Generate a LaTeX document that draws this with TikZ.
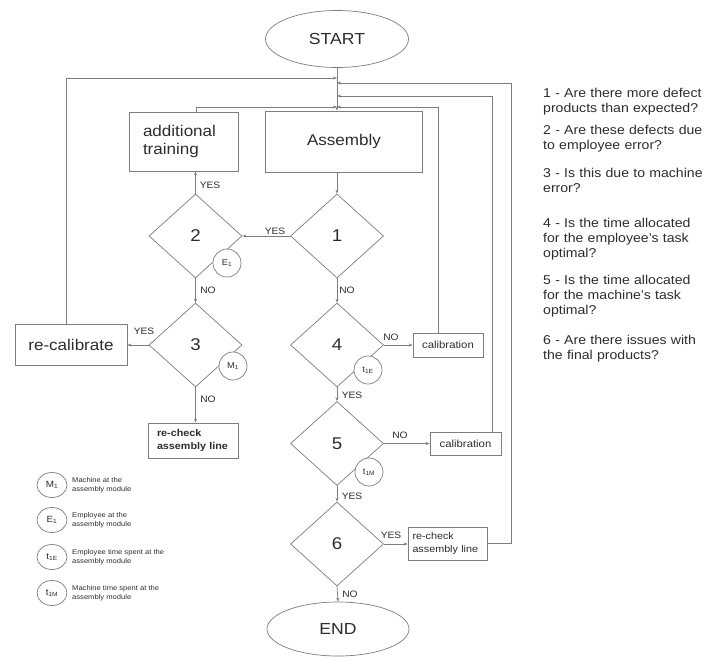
\documentclass[tikz,border=0pt]{standalone}
\usepackage{fontspec}
\setmainfont[FakeStretch=1.1]{Liberation Sans}
\usetikzlibrary{shapes.geometric,arrows.meta}
\definecolor{linec}{RGB}{125,125,125}
\definecolor{textc}{RGB}{45,45,45}
\begin{document}
\begin{tikzpicture}[x=1pt,y=-1pt,
  every node/.style={text=textc, font=\fontsize{10}{12}\selectfont},
  ln/.style={draw=linec, line width=0.7pt},
  arr/.style={ln, -{Stealth[length=4pt,width=3pt]}},
  dia/.style={shape=diamond, draw=linec, line width=0.7pt, minimum width=93pt, minimum height=84pt, inner sep=0pt, font=\fontsize{17}{20}\selectfont},
  term/.style={ellipse, draw=linec, line width=0.7pt, minimum width=143pt, minimum height=57pt, inner sep=0pt, font=\fontsize{16}{19}\selectfont},
  bigbox/.style={draw=linec, line width=0.7pt, inner sep=0pt, font=\fontsize{15.5}{18}\selectfont},
  smallbox/.style={draw=linec, line width=0.7pt, inner sep=0pt, font=\fontsize{10.3}{12.5}\selectfont},
  tag/.style={circle, draw=linec, line width=0.7pt, fill=white, minimum size=28pt, inner sep=0pt, font=\fontsize{8.5}{9}\selectfont},
  legtag/.style={ellipse, draw=linec, line width=0.7pt, minimum width=30pt, minimum height=25pt, inner sep=0pt, font=\fontsize{9}{10}\selectfont},
  lab/.style={font=\fontsize{9.3}{10}\selectfont, inner sep=0pt},
  leg/.style={font=\fontsize{6.9}{9.3}\selectfont, align=left, anchor=west, inner sep=0pt},
  qtext/.style={font=\fontsize{12.8}{15}\selectfont, align=left, anchor=base west, inner sep=0pt, text width=160pt}
]
\fill[white] (0,0) rectangle (704,657);
\useasboundingbox (0,0) rectangle (704,657);

% main column
\node[term] (start) at (337,39) {START};
\node[bigbox, minimum width=157pt, minimum height=61pt] (asm) at (344,141.5) {Assembly};
\node[bigbox, minimum width=109pt, minimum height=59pt, align=left, text width=81pt] (train) at (183.5,141.5) {additional\\training};
\node[dia] (d1) at (337,236) {1};
\node[dia] (d2) at (195.5,236) {2};
\node[dia] (d3) at (195.5,345) {3};
\node[dia] (d4) at (337,345) {4};
\node[dia] (d5) at (337,443.5) {5};
\node[dia] (d6) at (337,544) {6};
\node[term, minimum width=142pt, minimum height=54pt] (end) at (338,629) {END};

\node[bigbox, minimum width=112pt, minimum height=41pt] (recal) at (71,344.5) {re-calibrate};
\node[smallbox, minimum width=90pt, minimum height=35pt, align=left, text width=72pt, font=\bfseries\fontsize{9.8}{12.5}\selectfont] (rc1) at (193,440.5) {re-check\\assembly line};
\node[smallbox, minimum width=70pt, minimum height=24pt] (cal1) at (448,345) {calibration};
\node[smallbox, minimum width=71pt, minimum height=23pt] (cal2) at (465.5,443.5) {calibration};
\node[smallbox, minimum width=79pt, minimum height=33pt, align=left, text width=70pt, font=\fontsize{9.8}{12.5}\selectfont] (rc2) at (447.5,543.5) {re-check\\assembly line};

% connectors
\draw[arr] (start.south) -- (start.south |- asm.north);
\draw[arr] (asm.south -| d1.north) -- (d1.north);
\draw[arr] (d1.west) -- (d2.east);
\draw[arr] (d2.north) -- (d2.north |- train.south);
\draw[arr] (d2.south) -- (d3.north);
\draw[arr] (d3.west) -- (d3.west -| recal.east);
\draw[arr] (d3.south) -- (d3.south |- rc1.north);
\draw[arr] (d1.south) -- (d4.north);
\draw[arr] (d4.south) -- (d5.north);
\draw[arr] (d5.south) -- (d6.north);
\draw[arr] (d6.south) -- (end.north);
\draw[arr] (d4.east) -- (d4.east -| cal1.west);
\draw[arr] (d5.east) -- (d5.east -| cal2.west);
\draw[arr] (d6.east) -- (d6.east -| rc2.west);

% loops back to the main line
\coordinate (j1) at (337,78);
\coordinate (j2) at (337,83);
\coordinate (j3) at (337,96);
\coordinate (j4) at (337,107);
\coordinate (rl) at (66,78);
\coordinate (r2) at (511,83);
\coordinate (r3) at (492,96);
\coordinate (r4) at (438,107);
\coordinate (l4) at (196,107);
\draw[arr] (rl |- recal.north) -- (rl) -- (j1);
\draw[arr] (rc2.east) -| (r2) -- (j2);
\draw[arr] (cal2.north -| r3) -- (r3) -- (j3);
\draw[arr] (cal1.north -| r4) -- (r4) -- (j4);
\draw[arr] (train.north -| l4) -- (l4) -- (j4);

% tags
\node[tag] (e1) at (227,263) {E\textsubscript{1}};
\node[tag] (m1) at (233,366) {M\textsubscript{1}};
\node[tag] (t1e) at (368,370) {t\textsubscript{1E}};
\node[tag] (t1m) at (369,472) {t\textsubscript{1M}};

% labels
\node[lab] (y12) at (275,231) {YES};
\node[lab] (y2t) at (210,185) {YES};
\node[lab] (n23) at (208,290) {NO};
\node[lab] (y3r) at (144,331) {YES};
\node[lab] (n3r) at (208,399) {NO};
\node[lab] (n14) at (347,290) {NO};
\node[lab] (n4c) at (391,337) {NO};
\node[lab] (y45) at (352,395) {YES};
\node[lab] (n5c) at (400,435) {NO};
\node[lab] (y56) at (352,496) {YES};
\node[lab] (y6r) at (391,535) {YES};
\node[lab] (n6e) at (350,594) {NO};

% legend
\node[legtag] (lg1) at (52,485) {M\textsubscript{1}};
\node[legtag] (lg2) at (52,520) {E\textsubscript{1}};
\node[legtag] (lg3) at (52,557) {t\textsubscript{1E}};
\node[legtag] (lg4) at (52,593) {t\textsubscript{1M}};
\node[leg] (lt1) at (72,485) {Machine at the\\assembly module};
\node[leg] (lt2) at (72,520) {Employee at the\\assembly module};
\node[leg] (lt3) at (72,557) {Employee time spent at the\\assembly module};
\node[leg] (lt4) at (72,593) {Machine time spent at the\\assembly module};

% questions
\node[qtext] (q1) at (543,97) {1 - Are there more defect\\products than expected?};
\node[qtext] (q2) at (543,134) {2 - Are these defects due\\to employee error?};
\node[qtext] (q3) at (543,177) {3 - Is this due to machine\\error?};
\node[qtext] (q4) at (543,227) {4 - Is the time allocated\\for the employee's task\\optimal?};
\node[qtext] (q5) at (543,284) {5 - Is the time allocated\\for the machine's task\\optimal?};
\node[qtext] (q6) at (543,344) {6 - Are there issues with\\the final products?};
\end{tikzpicture}
\end{document}
